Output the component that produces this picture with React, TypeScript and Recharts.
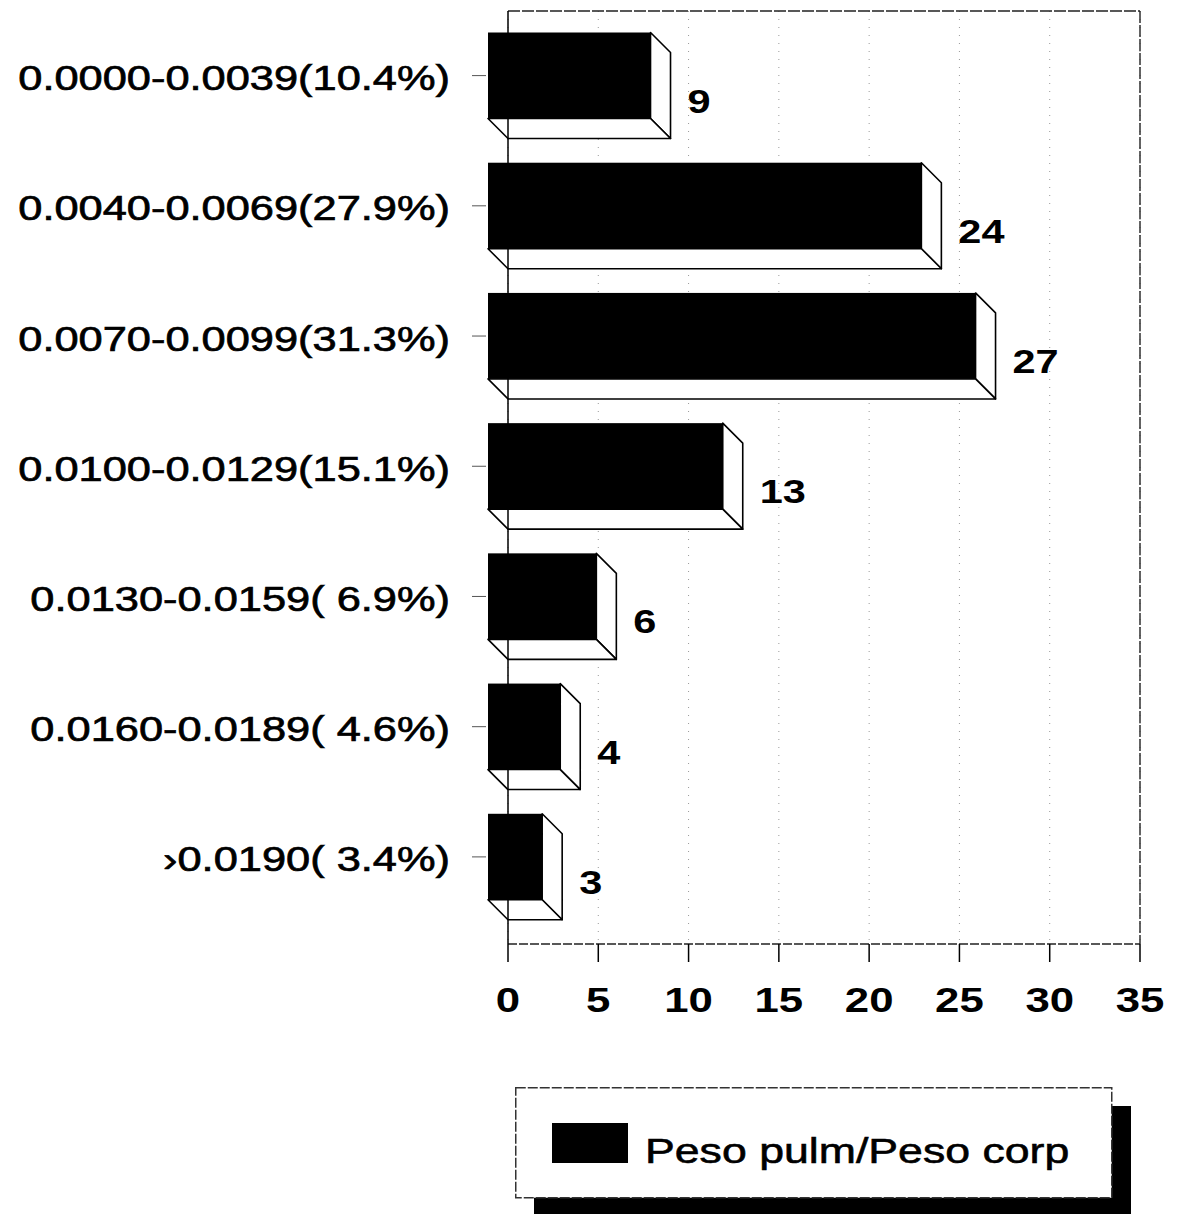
import React from "react";
import { BarChart, Bar, XAxis, YAxis, CartesianGrid, LabelList, Legend } from "recharts";

// category labels (range of ratio, with share of cases)
const ranges = [
  "0.0000-0.0039(10.4%)",
  "0.0040-0.0069(27.9%)",
  "0.0070-0.0099(31.3%)",
  "0.0100-0.0129(15.1%)",
  "0.0130-0.0159( 6.9%)",
  "0.0160-0.0189( 4.6%)",
  "\u203a0.0190( 3.4%)",
];
const counts = [9, 24, 27, 13, 6, 4, 3];
const xTicks = [0, 5, 10, 15, 20, 25, 30, 35];
const seriesName = "Peso pulm/Peso corp";

const data = ranges.map((range, i) => ({ range, count: counts[i] }));

const W = 1179;
const H = 1214;
const DEPTH = 20;
const FONT = "'Liberation Sans', Arial, Helvetica, sans-serif";

function Bar3D(props: any) {
  const { x, y, width, height } = props;
  if (!width || width <= 0) return null;
  const d = DEPTH;
  const r = x + width;
  const b = y + height;
  return (
    <g>
      <polygon
        points={`${r - d},${y - d} ${r},${y} ${r},${b} ${r - d},${b - d}`}
        fill="#fff"
        stroke="#000"
        strokeWidth={1.6}
        strokeLinejoin="round"
      />
      <polygon
        points={`${x - d},${b - d} ${r - d},${b - d} ${r},${b} ${x},${b}`}
        fill="#fff"
        stroke="#000"
        strokeWidth={1.6}
        strokeLinejoin="round"
      />
      <rect x={x - d} y={y - d} width={width} height={height} fill="#000" />
    </g>
  );
}

function CategoryTick(props: any) {
  const { y, payload } = props;
  const cy = y - DEPTH + 2;
  return (
    <g>
      <line x1={472} x2={486} y1={cy - 2} y2={cy - 2} stroke="#555" strokeWidth={1} />
      <text
        transform={`translate(450 ${cy + 12.5}) scale(1.24 1)`}
        textAnchor="end"
        fontFamily={FONT}
        fontSize={35}
        fill="#000"
        stroke="#000"
        strokeWidth={0.7}
      >
        {payload.value}
      </text>
    </g>
  );
}

function ValueTick(props: any) {
  const { x, payload } = props;
  return (
    <text
      transform={`translate(${x} 1012) scale(1.25 1)`}
      textAnchor="middle"
      fontFamily={FONT}
      fontWeight="bold"
      fontSize={35}
      fill="#000"
    >
      {payload.value}
    </text>
  );
}

function ValueLabel(props: any) {
  const { x, y, width, height, value } = props;
  const cy = y + height / 2 + 5;
  return (
    <text
      transform={`translate(${x + width + 17} ${cy + 12}) scale(1.22 1)`}
      fontFamily={FONT}
      fontWeight="bold"
      fontSize={34}
      fill="#000"
    >
      {value}
    </text>
  );
}

function LegendBox(props: any) {
  const item = props.payload && props.payload[0];
  const label = item ? item.value : seriesName;
  return (
    <svg width={620} height={130} style={{ overflow: "visible", display: "block" }}>
      <rect x={19} y={19} width={597} height={111} fill="#000" />
      <rect
        x={0.75}
        y={0.75}
        width={596}
        height={110}
        fill="#fff"
        stroke="#333"
        strokeWidth={1.5}
        strokeDasharray="10 2"
      />
      <rect x={37} y={36} width={76} height={40} fill="#000" />
      <text
        transform="translate(130 76) scale(1.24 1)"
        fontFamily={FONT}
        fontSize={36}
        fill="#000"
        stroke="#000"
        strokeWidth={0.6}
      >
        {label}
      </text>
    </svg>
  );
}

export default function App() {
  return (
    <div style={{ position: "absolute", left: 0, top: 0, width: W, height: H, background: "#fff" }}>
      <BarChart
        width={W}
        height={H}
        data={data}
        layout="vertical"
        margin={{ top: 11, right: 39, bottom: 210, left: 8 }}
      >
        <CartesianGrid horizontal={false} stroke="#999" strokeDasharray="1 7" />
        {/* back wall frame: top edge and right edge */}
        <CartesianGrid
          horizontalCoordinatesGenerator={({ offset }: any) => [offset.top]}
          verticalCoordinatesGenerator={({ offset }: any) => [offset.left + offset.width]}
          stroke="#222"
          strokeWidth={1.4}
          strokeDasharray="12 2"
        />
        <XAxis
          type="number"
          domain={[0, 35]}
          ticks={xTicks}
          interval={0}
          height={60}
          tickSize={18}
          tickLine={{ stroke: "#000", strokeWidth: 1.5 }}
          axisLine={{ stroke: "#222", strokeWidth: 1.5, strokeDasharray: "9 2" }}
          tick={<ValueTick />}
        />
        <YAxis
          type="category"
          dataKey="range"
          width={500}
          interval={0}
          padding={{ top: 19.5, bottom: 2 }}
          tickLine={false}
          axisLine={{ stroke: "#000", strokeWidth: 1.5 }}
          tick={<CategoryTick />}
        />
        <Legend
          layout="horizontal"
          verticalAlign="middle"
          align="center"
          content={<LegendBox />}
          wrapperStyle={{ left: 515, top: 1087, width: 620, height: 130 }}
        />
        <Bar
          dataKey="count"
          name={seriesName}
          fill="#000"
          barSize={86}
          shape={<Bar3D />}
          isAnimationActive={false}
        >
          <LabelList dataKey="count" content={<ValueLabel />} />
        </Bar>
      </BarChart>
    </div>
  );
}
